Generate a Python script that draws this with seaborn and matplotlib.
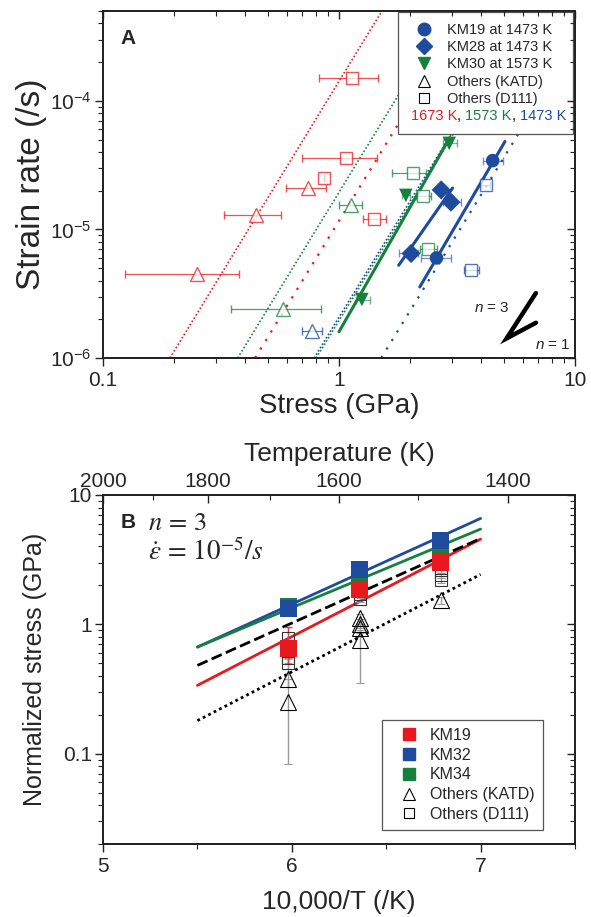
import numpy as np
import pandas as pd
import seaborn as sns
import matplotlib.pyplot as plt
from matplotlib import ticker
from matplotlib.lines import Line2D
from matplotlib.offsetbox import TextArea, HPacker, AnchoredOffsetbox

sns.set_style('ticks')
plt.rcParams['font.family'] = ['Liberation Sans', 'DejaVu Sans']
plt.rcParams['mathtext.fontset'] = 'custom'
plt.rcParams['mathtext.rm'] = 'Liberation Sans'
plt.rcParams['mathtext.it'] = 'Liberation Sans:italic'

RED = '#e8191e'
GREEN = '#17803d'
BLUE = '#1f4b9f'
temp_colors = {1673: RED, 1573: GREEN, 1473: BLUE}

# ---- panel A data: stress (GPa) vs strain rate (/s) ----
km19_x = [4.48, 2.59]
km19_y = [3.43e-5, 6.0e-6]
km19_xlo = [4.06, 2.22]
km19_xhi = [4.97, 2.97]

km28_x = [2.71, 2.98, 2.02]
km28_y = [2.03e-5, 1.63e-5, 6.5e-6]
km28_xlo = [2.62, 2.75, 1.80]
km28_xhi = [2.80, 3.30, 2.16]

km30_x = [2.93, 1.92, 1.25]
km30_y = [4.67e-5, 1.84e-5, 2.85e-6]
km30_xlo = [2.75, 1.85, 1.18]
km30_xhi = [3.16, 2.00, 1.35]

katd_temp = [1673, 1673, 1673, 1573, 1573, 1473]
katd_x = [0.736, 0.445, 0.250, 1.12, 0.577, 0.768]
katd_y = [2.10e-5, 1.30e-5, 4.48e-6, 1.56e-5, 2.39e-6, 1.62e-6]
katd_xlo = [0.596, 0.326, 0.124, 1.00, 0.347, 0.695]
katd_xhi = [0.880, 0.568, 0.377, 1.25, 0.839, 0.845]

d111_temp = [1673, 1673, 1673, 1673, 1573, 1573, 1573, 1473, 1473]
d111_x = [1.14, 1.07, 0.866, 1.41, 2.05, 2.28, 2.39, 4.18, 3.62]
d111_y = [1.50e-4, 3.57e-5, 2.52e-5, 1.20e-5, 2.73e-5, 1.82e-5, 7.08e-6, 2.22e-5, 4.81e-6]
d111_xlo = [0.825, 0.70, 0.866, 1.26, 1.67, 2.12, 2.20, 4.00, 3.37]
d111_xhi = [1.47, 1.45, 0.866, 1.58, 2.34, 2.45, 2.60, 4.35, 3.92]

# n = 3 fits through the KM samples (end points)
fit_name = ['KM19', 'KM28', 'KM30']
fit_x0 = [2.20, 1.79, 1.00]
fit_x1 = [5.05, 3.03, 2.95]
fit_y0 = [3.57e-6, 5.26e-6, 1.6e-6]
fit_y1 = [4.83e-5, 2.1e-5, 5.19e-5]
fit_color = [BLUE, BLUE, GREEN]

# n = 3 reference lines for other studies (x at 1e-6 /s and at 5e-4 /s)
ref_temp = [1673, 1573, 1673, 1473, 1573, 1473]
ref_x_bot = [0.192, 0.372, 0.441, 0.784, 0.800, 1.51]
ref_x_top = [1.52, 2.95, 3.50, 6.22, 6.35, 11.98]
ref_sparse = [False, False, True, False, False, True]

# stress exponent guide
guide_x = [6.83, 5.13, 6.83]
guide_y = [3.2e-6, 1.42e-6, 1.88e-6]

# ---- panel B data: 10,000/T vs normalized stress (GPa) ----
invT = [5.98, 6.36, 6.79]
km19_s = [0.648, 1.87, 2.99]
km32_s = [1.32, 2.66, 4.48]
km34_s = [1.38, 2.22, 3.97]

katd_b_x = [5.98, 5.98, 6.36, 6.36, 6.36, 6.36, 6.79]
katd_b_y = [0.38, 0.25, 1.11, 1.01, 0.93, 0.76, 1.53]
katd_b_lo = [0.05, 0.167, 0.10, 0.08, 0.08, 0.41, 0.10]
katd_b_hi = [0.16, 0.13, 0.10, 0.08, 0.08, 0.15, 0.10]

d111_b_x = [5.98, 5.98, 5.98, 6.36, 6.36, 6.79, 6.79, 6.79]
d111_b_y = [0.78, 0.55, 0.50, 1.72, 1.58, 2.62, 2.40, 2.19]
d111_b_err = [0.17, 0.06, 0.05, 0.12, 0.10, 0.12, 0.10, 0.10]

line_x = [5.5, 7.0]
line_km32 = [0.667, 6.59]
line_km34 = [0.667, 5.45]
line_km19 = [0.337, 4.56]
line_others_d111 = [0.481, 4.61]
line_others_katd = [0.180, 2.43]

temp_ticks = [2000, 1800, 1600, 1400]
temp_minor = [1900, 1700, 1500]

fig = plt.figure(figsize=(5.91, 9.17), dpi=100)
axA = fig.add_axes([0.1743, 0.6096, 0.7986, 0.3784])
axB = fig.add_axes([0.1743, 0.0796, 0.7986, 0.3806])

# ================= panel A =================
axA.set_xscale('log')
axA.set_yscale('log')
axA.set_xlim(0.1, 10)
axA.set_ylim(1e-6, 5e-4)

for t, xb, xt, sp in zip(ref_temp, ref_x_bot, ref_x_top, ref_sparse):
    ls = (0, (1, 3.5)) if sp else (0, (1, 1.3))
    lw = 1.6 if sp else 1.2
    axA.plot([xb, xt], [1e-6, 5e-4], color=temp_colors[t], ls=ls, lw=lw, zorder=1)

for x0, x1, y0, y1, c in zip(fit_x0, fit_x1, fit_y0, fit_y1, fit_color):
    axA.plot([x0, x1], [y0, y1], color=c, lw=2.2, zorder=2)

katd = pd.DataFrame({'temp': katd_temp, 'x': katd_x, 'y': katd_y, 'lo': katd_xlo, 'hi': katd_xhi})
d111 = pd.DataFrame({'temp': d111_temp, 'x': d111_x, 'y': d111_y, 'lo': d111_xlo, 'hi': d111_xhi})
for df, mk, ms in [(katd, '^', 10), (d111, 's', 8)]:
    for t, g in df.groupby('temp'):
        c = temp_colors[t]
        axA.errorbar(g['x'], g['y'], xerr=[g['x'] - g['lo'], g['hi'] - g['x']], fmt=mk,
                     ms=ms, mfc='white', mec=c, mew=1.0, ecolor=c, elinewidth=0.9,
                     capsize=3, capthick=0.9, alpha=0.75, zorder=3)

for xs, ys, lo, hi, c in [(km19_x, km19_y, km19_xlo, km19_xhi, BLUE),
                          (km28_x, km28_y, km28_xlo, km28_xhi, BLUE),
                          (km30_x, km30_y, km30_xlo, km30_xhi, GREEN)]:
    xs = np.array(xs)
    axA.errorbar(xs, ys, xerr=[xs - np.array(lo), np.array(hi) - xs], fmt='none',
                 ecolor=c, elinewidth=0.9, capsize=3, alpha=0.6, zorder=3)

km = pd.DataFrame({'x': km19_x + km28_x + km30_x, 'y': km19_y + km28_y + km30_y,
                   'sample': ['KM19'] * 2 + ['KM28'] * 3 + ['KM30'] * 3})
sns.scatterplot(data=km, x='x', y='y', hue='sample', style='sample',
                palette={'KM19': BLUE, 'KM28': BLUE, 'KM30': GREEN},
                markers={'KM19': 'o', 'KM28': 'D', 'KM30': 'v'},
                s=95, linewidth=0, legend=False, ax=axA, zorder=4)

axA.plot(guide_x, guide_y, color='black', lw=3.2, solid_joinstyle='miter', zorder=4)
axA.text(0.862, 0.145, '$n$ = 3', transform=axA.transAxes, fontsize=11,
         ha='right', va='center', math_fontfamily='custom')
axA.text(0.99, 0.038, '$n$ = 1', transform=axA.transAxes, fontsize=11,
         ha='right', va='center', math_fontfamily='custom')
axA.text(0.053, 0.922, 'A', transform=axA.transAxes, fontsize=15, fontweight='bold',
         ha='center', va='center')

axA.xaxis.set_major_formatter(ticker.FuncFormatter(lambda v, p: f'{v:g}'))
axA.xaxis.set_minor_formatter(ticker.NullFormatter())
axA.set_xlabel('Stress (GPa)', fontsize=20, labelpad=2)
axA.set_ylabel('Strain rate (/s)', fontsize=24)
axA.yaxis.set_label_coords(-0.118, 0.5)

lh = [Line2D([], [], marker='o', color=BLUE, ls='none', ms=9),
      Line2D([], [], marker='D', color=BLUE, ls='none', ms=8),
      Line2D([], [], marker='v', color=GREEN, ls='none', ms=9),
      Line2D([], [], marker='^', mfc='white', mec='black', ls='none', ms=9, mew=0.8),
      Line2D([], [], marker='s', mfc='white', mec='black', ls='none', ms=7, mew=0.8),
      Line2D([], [], ls='none')]
ll = ['KM19 at 1473 K', 'KM28 at 1473 K', 'KM30 at 1573 K', 'Others (KATD)', 'Others (D111)', ' ']
legA = axA.legend(lh, ll, loc='upper right', bbox_to_anchor=(0.625, 0.5, 0.371, 0.497),
                  mode='expand', fontsize=10.5,
                  frameon=True, fancybox=False, edgecolor='#555555', framealpha=1,
                  handlelength=2.1, handletextpad=0.5, labelspacing=0.22, borderpad=0.75,
                  borderaxespad=0)
legA.get_frame().set_linewidth(0.9)

# ================= panel B =================
axB.set_yscale('log')
axB.set_xlim(5, 7.5)
axB.set_ylim(0.02, 10)

lines = pd.DataFrame({'x': line_x * 5,
                      'y': line_km32 + line_km34 + line_km19 + line_others_d111 + line_others_katd,
                      'fit': ['KM32'] * 2 + ['KM34'] * 2 + ['KM19'] * 2 + ['D111'] * 2 + ['KATD'] * 2})
sns.lineplot(data=lines, x='x', y='y', hue='fit', style='fit',
             palette={'KM32': BLUE, 'KM34': GREEN, 'KM19': RED, 'D111': 'black', 'KATD': 'black'},
             dashes={'KM32': '', 'KM34': '', 'KM19': '', 'D111': (4, 1.6), 'KATD': (1, 1.2)},
             linewidth=2, legend=False, ax=axB, zorder=2)

axB.errorbar(katd_b_x, katd_b_y, yerr=[katd_b_lo, katd_b_hi], fmt='^', ms=11, mfc='none',
             mec='black', mew=0.8, ecolor='#9a9a9a', elinewidth=1, capsize=3, zorder=3)
axB.errorbar(d111_b_x, d111_b_y, yerr=d111_b_err, fmt='s', ms=8, mfc='none',
             mec='#333333', mew=0.8, ecolor='#9a9a9a', elinewidth=1, capsize=3, zorder=3)
axB.errorbar(invT, km19_s, yerr=[[0.15, 0.1, 0.1], [0.3, 0.12, 0.12]], fmt='none',
             ecolor=RED, elinewidth=1, capsize=3, alpha=0.6, zorder=3)

sq = pd.DataFrame({'x': invT * 3, 'y': km34_s + km19_s + km32_s,
                   'sample': ['KM34'] * 3 + ['KM19'] * 3 + ['KM32'] * 3})
sns.scatterplot(data=sq, x='x', y='y', hue='sample',
                palette={'KM34': GREEN, 'KM19': RED, 'KM32': BLUE},
                marker='s', s=150, linewidth=0, legend=False, ax=axB, zorder=4)

axB.text(0.053, 0.92, 'B', transform=axB.transAxes, fontsize=15, fontweight='bold',
         ha='center', va='center')
axB.text(0.095, 0.92, r'$n\,=\,3$', transform=axB.transAxes, fontsize=19,
         ha='left', va='center', math_fontfamily='stix')
axB.text(0.095, 0.835, r'$\dot{\varepsilon}\,=\,10^{-5}/s$', transform=axB.transAxes,
         fontsize=19.5, ha='left', va='center', math_fontfamily='stix')

axB.xaxis.set_major_locator(ticker.FixedLocator([5, 6, 7]))
axB.xaxis.set_minor_locator(ticker.FixedLocator([5.5, 6.5, 7.5]))
axB.yaxis.set_major_formatter(ticker.FuncFormatter(lambda v, p: f'{v:g}'))
axB.yaxis.set_minor_formatter(ticker.NullFormatter())
axB.set_xlabel('10,000/T (/K)', fontsize=19, labelpad=10)
axB.set_ylabel('Normalized stress (GPa)', fontsize=18)
axB.yaxis.set_label_coords(-0.118, 0.5)

lhB = [Line2D([], [], marker='s', color=RED, ls='none', ms=9),
       Line2D([], [], marker='s', color=BLUE, ls='none', ms=9),
       Line2D([], [], marker='s', color=GREEN, ls='none', ms=9),
       Line2D([], [], marker='^', mfc='white', mec='black', ls='none', ms=9, mew=0.8),
       Line2D([], [], marker='s', mfc='white', mec='black', ls='none', ms=7, mew=0.8)]
llB = ['KM19', 'KM32', 'KM34', 'Others (KATD)', 'Others (D111)']
legB = axB.legend(lhB, llB, loc='lower right', bbox_to_anchor=(0.591, 0.04, 0.341, 0.318),
                  mode='expand', fontsize=11.5,
                  frameon=True, fancybox=False, edgecolor='#555555', framealpha=1,
                  handlelength=2.4, handletextpad=0.1, labelspacing=0.3, borderpad=0.5,
                  borderaxespad=0)
legB.get_frame().set_linewidth(0.9)

# top temperature axis
axT = axB.twiny()
axT.set_xlim(axB.get_xlim())
axT.xaxis.set_major_locator(ticker.FixedLocator([1e4 / t for t in temp_ticks]))
axT.xaxis.set_major_formatter(ticker.FixedFormatter([str(t) for t in temp_ticks]))
axT.xaxis.set_minor_locator(ticker.FixedLocator([1e4 / t for t in temp_minor]))
axT.tick_params(which='both', direction='in', labelsize=15, pad=3)
axT.set_xlabel('Temperature (K)', fontsize=19, labelpad=8)

# mirrored inward ticks on right / top
mirrors = []
for ax in (axA, axB):
    r = ax.twinx()
    r.set_yscale('log')
    r.set_ylim(ax.get_ylim())
    r.tick_params(which='both', direction='in', labelright=False)
    mirrors.append(r)
t = axA.twiny()
t.set_xscale('log')
t.set_xlim(axA.get_xlim())
t.tick_params(which='both', direction='in', labeltop=False)
mirrors.append(t)

for ax in [axA, axB, axT] + mirrors:
    for sp in ax.spines.values():
        sp.set_linewidth(1.1)
        sp.set_color('#222222')
    ax.tick_params(which='major', length=6, width=1, labelsize=15, color='#222222')
    ax.tick_params(which='minor', length=3.5, width=0.8, color='#222222')
for ax in (axA, axB):
    ax.tick_params(which='both', direction='out')
    ax.tick_params(axis='y', which='major', pad=2)

# coloured temperature key inside legend A
fig.canvas.draw()
bb = legA.get_window_extent()
tb = legA.get_texts()[-1].get_window_extent()
parts = [TextArea(s, textprops=dict(color=c, fontsize=10.5)) for s, c in
         [('1673 K', RED), (', ', 'black'), ('1573 K', GREEN), (', ', 'black'), ('1473 K', BLUE)]]
box = AnchoredOffsetbox(loc='center left', child=HPacker(children=parts, pad=0, sep=0),
                        frameon=False, pad=0, borderpad=0,
                        bbox_to_anchor=((bb.x0 + 13) / fig.bbox.width, (tb.y0 + tb.y1) / 2 / fig.bbox.height),
                        bbox_transform=fig.transFigure)
box.set_zorder(10)
mirrors[0].add_artist(box)

fig.savefig('out.png', dpi=100)
